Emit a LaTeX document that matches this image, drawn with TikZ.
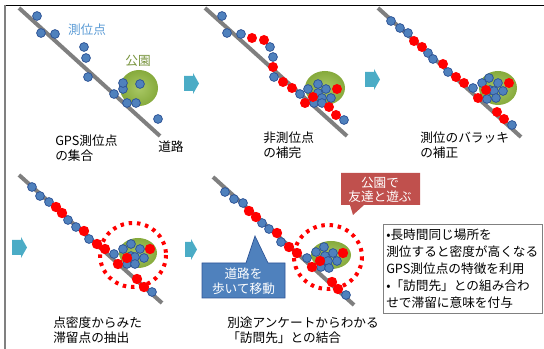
\documentclass[tikz,border=0pt]{standalone}
\usepackage{fontspec}
\setmainfont{Noto Sans CJK JP}
\definecolor{dotblue}{HTML}{4F81BD}
\definecolor{dotborder}{HTML}{2F5597}
\definecolor{roadgray}{HTML}{7F7F7F}
\definecolor{parkin}{HTML}{A9C865}
\definecolor{parkout}{HTML}{86AA3C}
\definecolor{arrowcyan}{HTML}{4BACC6}
\definecolor{calloutred}{HTML}{C0504D}
\definecolor{labelblue}{HTML}{5B9BD5}
\definecolor{labelgreen}{HTML}{77933C}
\tikzset{
  bdot/.style={fill=dotblue, draw=dotborder, line width=0.6pt},
  rdot/.style={fill=red},
  road/.style={draw=roadgray, line width=3pt},
  park/.style={inner color=parkin, outer color=parkout},
  stayring/.style={draw=red, line width=3pt, dash pattern=on 2.6pt off 3.6pt},
  flowarrow/.style={fill=arrowcyan},
  caption/.style={font=\fontsize{9.5}{11.25}\selectfont, align=left, inner sep=0pt, anchor=west},
  calltext/.style={font=\fontsize{9.5}{10.2}\selectfont, align=center, inner sep=0pt, text=white},
}
\begin{document}
\begin{tikzpicture}[x=0.75pt, y=-0.75pt]
\useasboundingbox (0,0) rectangle (544,349);
% frame
\draw[black, line width=0.6pt] (5,5) -- (544,5);
\draw[gray, line width=1.3pt] (5,5) -- (5,349);

% ---------- panel 1 ----------
\shade[park] (139,88) ellipse [x radius=19, y radius=18];
\draw[road] (19,8) -- (160,136);
\foreach \p in {(37,16),(41,33),(55,34),(84,47),(86,58),(88,77),(114,94),(123,89),(123,83),(140,84),(127,103),(136,103),(158,119)}
  \filldraw[bdot] \p circle (4.4);
\node (lbl1) [font=\fontsize{9.5}{11}\selectfont, text=labelblue, inner sep=0pt] at (87,30) {測位点};
\node (lbl2) [font=\fontsize{9.5}{11}\selectfont, text=labelgreen, inner sep=0pt] at (138,61) {公園};
\node (cap1) [caption] at (55,148.5) {GPS測位点\\の集合};
\node (road1) [caption] at (158,147) {道路};

% ---------- panel 2 ----------
\shade[park] (325,88) ellipse [x radius=20, y radius=17];
\draw[road] (205,8) -- (347,136);
\foreach \p in {(222,16),(227,33),(241,34),(270,47),(273,57),(274,77),(300,94),(308,89),(318,84),(326,89),(318,93),(322,98),(331,98),(314,103),(322,103),(344,120)}
  \filldraw[bdot] \p circle (4.4);
\foreach \p in {(252,38),(264,40),(273,67),(283,82),(292,88),(337,89),(313,97),(305,103),(329,107),(336,115)}
  \fill[rdot] \p circle (5);
\node (cap2) [caption] at (263,145) {非測位点\\の補完};

% ---------- panel 3 ----------
\shade[park] (498,88) ellipse [x radius=19, y radius=17];
\draw[road] (378,8) -- (521,137);
\foreach \p in {(391,21),(400,28),(408,33),(428,53),(433,59),(448,72),(473,88),(482,83),(489,78),(498,83),(490,90),(503,91),(494,91),(487,99),(496,98),(512,125)}
  \filldraw[bdot] \p circle (4.4);
\foreach \p in {(414,41),(422,47),(443,64),(456,77),(464,83),(509,83),(486,90),(478,98),(497,112),(504,119)}
  \fill[rdot] \p circle (5);
\node (cap3) [caption] at (420,145) {測位のバラッキ\\の補正};

% ---------- panel 4 ----------
\shade[park] (138,253) ellipse [x radius=19, y radius=15];
\draw[road] (19,175) -- (162,303);
\foreach \p in {(32,187),(40,196),(49,202),(68,220),(76,227),(89,239),(114,254),(123,249),(131,244),(140,249),(131,256),(144,258),(135,257),(127,264),(135,264),(152,292)}
  \filldraw[bdot] \p circle (4.4);
\foreach \p in {(56,207),(62,213),(84,231),(97,244),(105,249),(150,249),(127,258),(118,264),(137,279),(144,287)}
  \fill[rdot] \p circle (5.2);
\draw[stayring] (133,255) ellipse [x radius=33, y radius=32];
\node (cap4) [caption] at (53,330.5) {点密度からみた\\滞留点の抽出};

% ---------- panel 5 ----------
\shade[park] (331,255) ellipse [x radius=20, y radius=14];
\draw[road] (213,177) -- (354,305);
\foreach \p in {(225,192),(234,199),(243,203),(262,223),(269,229),(281,242),(307,258),(316,252),(324,247),(333,253),(325,256),(337,261),(328,261),(321,267),(329,268),(346,295)}
  \filldraw[bdot] \p circle (4.4);
\foreach \p in {(249,211),(256,217),(277,233),(289,247),(297,253),(343,253),(320,261),(312,267),(332,282),(338,289)}
  \fill[rdot] \p circle (5.2);
\draw[stayring] (328,257) ellipse [x radius=34, y radius=32];
\node (cap5) [caption] at (227,330.5) {別途アンケートからわかる\\「訪問先」との結合};

% callouts
\filldraw[fill=dotblue, draw=dotborder, line width=0.5pt] (202,263) -- (246,263) -- (255,236) -- (268,263) -- (285,263) -- (285,298) -- (202,298) -- cycle;
\node (walk) [calltext, font=\fontsize{9.5}{11.25}\selectfont] at (243.5,281) {道路を\\歩いて移動};
\fill[calloutred] (341,173) -- (420,173) -- (420,205) -- (364,205) -- (353,215) -- (350,205) -- (341,205) -- cycle;
\node (play) [calltext] at (380,190) {公園で\\友達と遊ぶ};

% text box
\node (tb) [draw=gray, line width=0.7pt, anchor=north west, minimum width=119.5pt, minimum height=66.75pt, inner sep=0pt] at (383,224) {};
\node (tbt) [font=\fontsize{9.5}{12.75}\selectfont, align=left, inner sep=0pt, anchor=west] at (386,269) {•長時間同じ場所を\\測位すると密度が高くなる\\GPS測位点の特徴を利用\\•「訪問先」との組み合わ\\せで滞留に意味を付与};

% flow arrows
\fill[flowarrow] (184,76) -- (193,76) -- (193,73) -- (199,83.5) -- (193,94) -- (193,91) -- (184,91) -- cycle;
\fill[flowarrow] (365,72) -- (374,72) -- (374,69) -- (380,79.5) -- (374,90) -- (374,87) -- (365,87) -- cycle;
\fill[flowarrow] (12,240) -- (21,240) -- (21,237) -- (27,247.5) -- (21,258) -- (21,255) -- (12,255) -- cycle;
\fill[flowarrow] (185,242) -- (191,242) -- (191,239) -- (197,249.5) -- (191,260) -- (191,257) -- (185,257) -- cycle;
\end{tikzpicture}
\end{document}
